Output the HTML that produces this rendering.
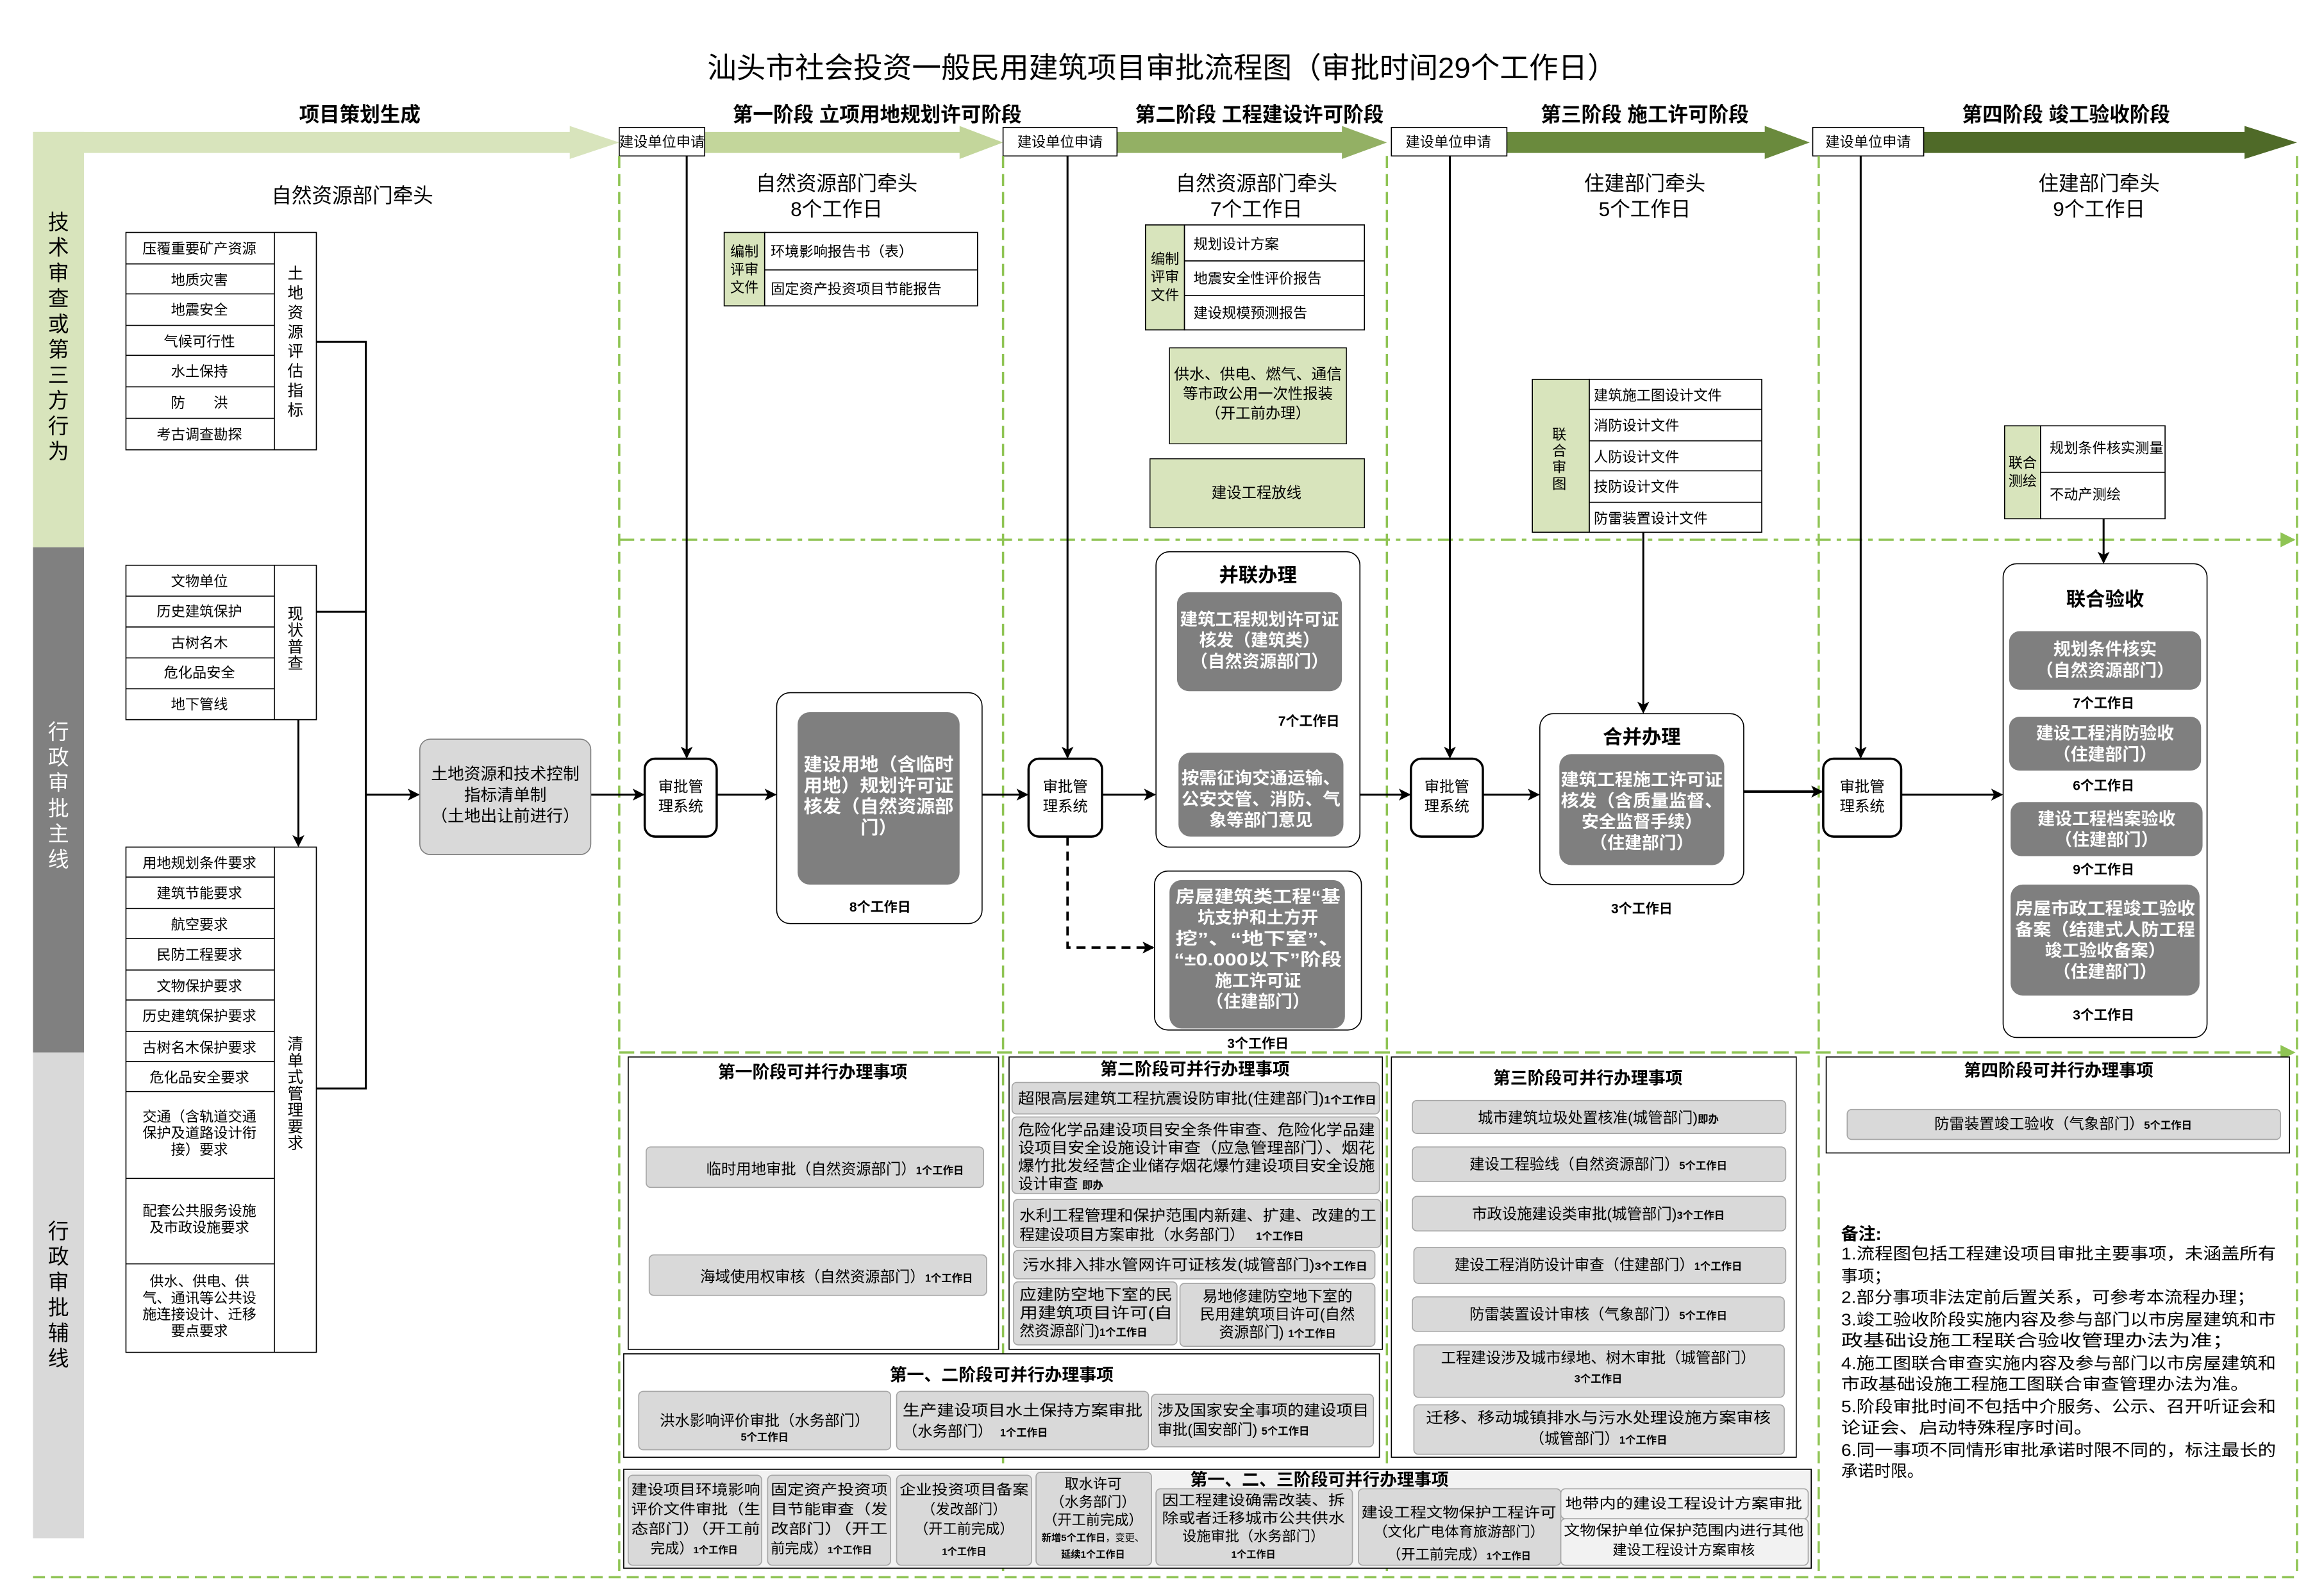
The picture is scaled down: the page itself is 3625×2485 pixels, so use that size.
<!DOCTYPE html>
<html><head><meta charset="utf-8">
<style>
html,body{margin:0;padding:0;background:#fff;}
svg{display:block;}
text{font-family:"Liberation Sans","Noto Sans CJK SC",sans-serif;fill:#000;}
.b{font-weight:bold;}
.w{fill:#fff;font-weight:bold;}
.m{text-anchor:middle;}
</style></head>
<body>
<svg width="3625" height="2485" viewBox="0 0 1550 1062.5" xmlns="http://www.w3.org/2000/svg">
<defs>
<marker id="a" markerWidth="8" markerHeight="8" refX="7" refY="4" orient="auto" markerUnits="userSpaceOnUse"><path d="M0,0 L8,4 L0,8 L2,4 z" fill="#000"/></marker>
<marker id="g" markerWidth="10" markerHeight="10" refX="9" refY="5" orient="auto" markerUnits="userSpaceOnUse"><path d="M0,0 L10,5 L0,10 z" fill="#8fc454"/></marker>
</defs>

<!-- Title -->
<text x="775" y="52" class="m" font-size="19.5">汕头市社会投资一般民用建筑项目审批流程图（审批时间29个工作日）</text>

<!-- stage headers -->
<g class="b" font-size="13.5">
<text x="240" y="81" class="m b">项目策划生成</text>
<text x="585" y="81" class="m b">第一阶段  立项用地规划许可阶段</text>
<text x="840" y="81" class="m b">第二阶段  工程建设许可阶段</text>
<text x="1097" y="81" class="m b">第三阶段  施工许可阶段</text>
<text x="1378" y="81" class="m b">第四阶段  竣工验收阶段</text>
</g>

<!-- left bands -->
<rect x="22" y="88" width="34" height="277" fill="#d8e4bc"/>
<rect x="22" y="365" width="34" height="337" fill="#808080"/>
<rect x="22" y="702" width="34" height="324" fill="#d9d9d9"/>
<text font-size="14" class="m"><tspan x="39" y="153">技</tspan><tspan x="39" dy="17">术</tspan><tspan x="39" dy="17">审</tspan><tspan x="39" dy="17">查</tspan><tspan x="39" dy="17">或</tspan><tspan x="39" dy="17">第</tspan><tspan x="39" dy="17">三</tspan><tspan x="39" dy="17">方</tspan><tspan x="39" dy="17">行</tspan><tspan x="39" dy="17">为</tspan></text>
<text font-size="14" class="m" style="fill:#fff"><tspan x="39" y="493">行</tspan><tspan x="39" dy="17">政</tspan><tspan x="39" dy="17">审</tspan><tspan x="39" dy="17">批</tspan><tspan x="39" dy="17">主</tspan><tspan x="39" dy="17">线</tspan></text>
<text font-size="14" class="m"><tspan x="39" y="826">行</tspan><tspan x="39" dy="17">政</tspan><tspan x="39" dy="17">审</tspan><tspan x="39" dy="17">批</tspan><tspan x="39" dy="17">辅</tspan><tspan x="39" dy="17">线</tspan></text>

<!-- big stage arrows -->
<polygon points="22,88 380,88 380,84 413,95 380,106 380,102 56,102 56,102 22,102" fill="#d8e4bc"/>
<polygon points="470,88 640,88 640,84 669,95 640,106 640,102 470,102" fill="#c3d69b"/>
<polygon points="745,88 895,88 895,84 925,95 895,106 895,102 745,102" fill="#93b064"/>
<polygon points="1005,88 1177,88 1177,84 1207,95 1177,106 1177,102 1005,102" fill="#6a8a3d"/>
<polygon points="1283,88 1497,88 1497,84 1532,95 1497,106 1497,102 1283,102" fill="#4f6a28"/>

<!-- 建设单位申请 boxes -->
<g font-size="9.5">
<rect x="413" y="85" width="57" height="19" fill="#fff" stroke="#000" stroke-width="0.7"/><text x="441.5" y="98" class="m">建设单位申请</text>
<rect x="669" y="85" width="76" height="19" fill="#fff" stroke="#000" stroke-width="0.7"/><text x="707" y="98" class="m">建设单位申请</text>
<rect x="928" y="85" width="77" height="19" fill="#fff" stroke="#000" stroke-width="0.7"/><text x="966" y="98" class="m">建设单位申请</text>
<rect x="1209" y="85" width="74" height="19" fill="#fff" stroke="#000" stroke-width="0.7"/><text x="1246" y="98" class="m">建设单位申请</text>
</g>

<!-- dashed green lines -->
<g stroke="#8fc454" stroke-width="1.5" fill="none" stroke-dasharray="8 4">
<line x1="413" y1="104" x2="413" y2="1052"/>
<line x1="669" y1="104" x2="669" y2="1052"/>
<line x1="925" y1="104" x2="925" y2="1052"/>
<line x1="1213" y1="104" x2="1213" y2="1052"/>
<line x1="1532" y1="104" x2="1532" y2="1052"/>
<line x1="22" y1="1052" x2="1532" y2="1052"/>
<line x1="413" y1="360" x2="1530" y2="360" stroke-dasharray="10 4 3 4" marker-end="url(#g)"/>
<line x1="413" y1="702" x2="1530" y2="702" stroke-dasharray="10 4" marker-end="url(#g)"/>
</g>

<!-- left section -->
<text x="235" y="135" class="m" font-size="13.5">自然资源部门牵头</text>
<g stroke="#000" stroke-width="0.7" fill="#fff">
<rect x="84" y="155" width="127" height="145"/><line x1="183" y1="155" x2="183" y2="300"/>
<line x1="84" y1="176" x2="183" y2="176"/><line x1="84" y1="196" x2="183" y2="196"/><line x1="84" y1="217" x2="183" y2="217"/><line x1="84" y1="237" x2="183" y2="237"/><line x1="84" y1="258" x2="183" y2="258"/><line x1="84" y1="279" x2="183" y2="279"/>
<rect x="84" y="377" width="127" height="103"/><line x1="183" y1="377" x2="183" y2="480"/>
<line x1="84" y1="397.6" x2="183" y2="397.6"/><line x1="84" y1="418.2" x2="183" y2="418.2"/><line x1="84" y1="438.8" x2="183" y2="438.8"/><line x1="84" y1="459.4" x2="183" y2="459.4"/>
<rect x="84" y="565" width="127" height="337"/><line x1="183" y1="565" x2="183" y2="902"/>
<line x1="84" y1="585" x2="183" y2="585"/><line x1="84" y1="606" x2="183" y2="606"/><line x1="84" y1="626" x2="183" y2="626"/><line x1="84" y1="647" x2="183" y2="647"/><line x1="84" y1="667" x2="183" y2="667"/><line x1="84" y1="688" x2="183" y2="688"/><line x1="84" y1="708" x2="183" y2="708"/><line x1="84" y1="728" x2="183" y2="728"/><line x1="84" y1="786" x2="183" y2="786"/><line x1="84" y1="843" x2="183" y2="843"/>
</g>
<g font-size="9.5" class="m">
<text x="133" y="169" class="m">压覆重要矿产资源</text>
<text x="133" y="190" class="m">地质灾害</text>
<text x="133" y="210" class="m">地震安全</text>
<text x="133" y="231" class="m">气候可行性</text>
<text x="133" y="251" class="m">水土保持</text>
<text x="133" y="272" class="m">防　　洪</text>
<text x="133" y="293" class="m">考古调查勘探</text>
<text x="133" y="391" class="m">文物单位</text>
<text x="133" y="411" class="m">历史建筑保护</text>
<text x="133" y="432" class="m">古树名木</text>
<text x="133" y="452" class="m">危化品安全</text>
<text x="133" y="473" class="m">地下管线</text>
<text x="133" y="579" class="m">用地规划条件要求</text>
<text x="133" y="599" class="m">建筑节能要求</text>
<text x="133" y="620" class="m">航空要求</text>
<text x="133" y="640" class="m">民防工程要求</text>
<text x="133" y="661" class="m">文物保护要求</text>
<text x="133" y="681" class="m">历史建筑保护要求</text>
<text x="133" y="702" class="m">古树名木保护要求</text>
<text x="133" y="722" class="m">危化品安全要求</text>
<text x="133" y="748" class="m">交通（含轨道交通</text>
<text x="133" y="759" class="m">保护及道路设计衔</text>
<text x="133" y="770" class="m">接）要求</text>
<text x="133" y="811" class="m">配套公共服务设施</text>
<text x="133" y="822" class="m">及市政设施要求</text>
<text x="133" y="858" class="m">供水、供电、供</text>
<text x="133" y="869" class="m">气、通讯等公共设</text>
<text x="133" y="880" class="m">施连接设计、迁移</text>
<text x="133" y="891" class="m">要点要求</text>
</g>
<g font-size="10.5" class="m">
<text class="m"><tspan x="197" y="186">土</tspan><tspan x="197" dy="13">地</tspan><tspan x="197" dy="13">资</tspan><tspan x="197" dy="13">源</tspan><tspan x="197" dy="13">评</tspan><tspan x="197" dy="13">估</tspan><tspan x="197" dy="13">指</tspan><tspan x="197" dy="13">标</tspan></text>
<text class="m"><tspan x="197" y="413">现</tspan><tspan x="197" dy="11">状</tspan><tspan x="197" dy="11">普</tspan><tspan x="197" dy="11">查</tspan></text>
<text class="m"><tspan x="197" y="700">清</tspan><tspan x="197" dy="11">单</tspan><tspan x="197" dy="11">式</tspan><tspan x="197" dy="11">管</tspan><tspan x="197" dy="11">理</tspan><tspan x="197" dy="11">要</tspan><tspan x="197" dy="11">求</tspan></text>
</g>
<g stroke="#000" stroke-width="1.3" fill="none">
<polyline points="211,228 244,228 244,726 211,726"/>
<line x1="211" y1="408" x2="244" y2="408"/>
<line x1="199" y1="480" x2="199" y2="564" marker-end="url(#a)"/>
<line x1="244" y1="530" x2="279" y2="530" marker-end="url(#a)"/>
<line x1="394" y1="530" x2="429" y2="530" marker-end="url(#a)"/>
</g>
<rect x="280" y="493" width="114" height="77" rx="7" fill="#d9d9d9" stroke="#7f7f7f" stroke-width="0.7"/>
<g font-size="11" class="m"><text x="337" y="520" class="m">土地资源和技术控制</text><text x="337" y="534" class="m">指标清单制</text><text x="337" y="548" class="m">（土地出让前进行）</text></g>

<!-- 审批管理系统 boxes -->
<g stroke="#000" stroke-width="1.5" fill="#fff">
<rect x="430" y="506" width="48" height="52" rx="7"/>
<rect x="686" y="506" width="49" height="52" rx="7"/>
<rect x="941" y="506" width="48" height="52" rx="7"/>
<rect x="1216" y="506" width="52" height="52" rx="7"/>
</g>
<g font-size="10" class="m">
<text x="454" y="528" class="m">审批管</text><text x="454" y="541" class="m">理系统</text>
<text x="710.5" y="528" class="m">审批管</text><text x="710.5" y="541" class="m">理系统</text>
<text x="965" y="528" class="m">审批管</text><text x="965" y="541" class="m">理系统</text>
<text x="1242" y="528" class="m">审批管</text><text x="1242" y="541" class="m">理系统</text>
</g>

<!-- vertical arrows from applications -->
<g stroke="#000" stroke-width="1.3" fill="none">
<line x1="458" y1="104" x2="458" y2="505" marker-end="url(#a)"/>
<line x1="712" y1="104" x2="712" y2="505" marker-end="url(#a)"/>
<line x1="967" y1="104" x2="967" y2="505" marker-end="url(#a)"/>
<line x1="1241" y1="104" x2="1241" y2="505" marker-end="url(#a)"/>
<line x1="478" y1="530" x2="517" y2="530" marker-end="url(#a)"/>
<line x1="655" y1="530" x2="685" y2="530" marker-end="url(#a)"/>
<line x1="735" y1="530" x2="770" y2="530" marker-end="url(#a)"/>
<line x1="907" y1="530" x2="940" y2="530" marker-end="url(#a)"/>
<line x1="989" y1="530" x2="1026" y2="530" marker-end="url(#a)"/>
<line x1="1163" y1="528" x2="1215" y2="528" marker-end="url(#a)" stroke-width="1.7"/>
<line x1="1268" y1="530" x2="1335" y2="530" marker-end="url(#a)"/>
<line x1="838" y1="461" x2="838" y2="500" marker-end="url(#a)"/>
<line x1="1096" y1="300" x2="1096" y2="475" marker-end="url(#a)"/>
<line x1="1403" y1="346" x2="1403" y2="375" marker-end="url(#a)"/>
<polyline points="712,558 712,632 769,632" stroke-dasharray="6 4" stroke-width="1.6" marker-end="url(#a)"/>
</g>

<!-- Stage 1 -->
<text x="558" y="127" class="m" font-size="13.5">自然资源部门牵头</text>
<text x="558" y="144" class="m" font-size="13.5">8个工作日</text>
<rect x="483" y="155" width="27" height="49" fill="#d8e4bc" stroke="#000" stroke-width="0.7"/>
<rect x="510" y="155" width="142" height="49" fill="#fff" stroke="#000" stroke-width="0.7"/>
<line x1="510" y1="180" x2="652" y2="180" stroke="#000" stroke-width="0.7"/>
<g font-size="9.5"><text x="496.5" y="171" class="m">编制</text><text x="496.5" y="183" class="m">评审</text><text x="496.5" y="195" class="m">文件</text>
<text x="514" y="171">环境影响报告书（表）</text><text x="514" y="196">固定资产投资项目节能报告</text></g>
<rect x="518" y="462" width="137" height="154" rx="9" fill="#fff" stroke="#000" stroke-width="0.7"/>
<rect x="532" y="475" width="108" height="115" rx="8" fill="#7f7f7f"/>
<g font-size="12" class="m">
<text x="586" y="514" class="m w" textLength="100" lengthAdjust="spacingAndGlyphs">建设用地（含临时</text>
<text x="586" y="528" class="m w" textLength="100" lengthAdjust="spacingAndGlyphs">用地）规划许可证</text>
<text x="586" y="542" class="m w" textLength="100" lengthAdjust="spacingAndGlyphs">核发（自然资源部</text>
<text x="586" y="556" class="m w">门）</text>
</g>
<text x="587" y="608" class="m b" font-size="9">8个工作日</text>

<!-- Stage 2 -->
<text x="838" y="127" class="m" font-size="13.5">自然资源部门牵头</text>
<text x="838" y="144" class="m" font-size="13.5">7个工作日</text>
<rect x="764" y="150" width="26" height="70" fill="#d8e4bc" stroke="#000" stroke-width="0.7"/>
<rect x="790" y="150" width="120" height="70" fill="#fff" stroke="#000" stroke-width="0.7"/>
<line x1="790" y1="174" x2="910" y2="174" stroke="#000" stroke-width="0.7"/><line x1="790" y1="197" x2="910" y2="197" stroke="#000" stroke-width="0.7"/>
<g font-size="9.5"><text x="777" y="176" class="m">编制</text><text x="777" y="188" class="m">评审</text><text x="777" y="200" class="m">文件</text>
<text x="796" y="166">规划设计方案</text><text x="796" y="189">地震安全性评价报告</text><text x="796" y="212">建设规模预测报告</text></g>
<rect x="780" y="232" width="118" height="64" fill="#d8e4bc" stroke="#000" stroke-width="0.6"/>
<g font-size="10"><text x="839" y="253" class="m" textLength="112" lengthAdjust="spacingAndGlyphs">供水、供电、燃气、通信</text><text x="839" y="266" class="m">等市政公用一次性报装</text><text x="839" y="279" class="m">（开工前办理）</text></g>
<rect x="767" y="306" width="143" height="46" fill="#d8e4bc" stroke="#000" stroke-width="0.6"/>
<text x="838" y="332" class="m" font-size="10">建设工程放线</text>
<rect x="771" y="368" width="136" height="197" rx="9" fill="#fff" stroke="#000" stroke-width="0.7"/>
<text x="839" y="388" class="m b" font-size="13">并联办理</text>
<rect x="785" y="395" width="110" height="66" rx="8" fill="#7f7f7f"/>
<g font-size="11.5"><text x="840" y="417" class="m w" textLength="106" lengthAdjust="spacingAndGlyphs">建筑工程规划许可证</text><text x="840" y="431" class="m w">核发（建筑类）</text><text x="840" y="445" class="m w">（自然资源部门）</text></g>
<text x="873" y="484" class="m b" font-size="9">7个工作日</text>
<rect x="786" y="502" width="110" height="56" rx="8" fill="#7f7f7f"/>
<g font-size="11.5"><text x="841" y="523" class="m w" textLength="106" lengthAdjust="spacingAndGlyphs">按需征询交通运输、</text><text x="841" y="537" class="m w" textLength="106" lengthAdjust="spacingAndGlyphs">公安交管、消防、气</text><text x="841" y="551" class="m w">象等部门意见</text></g>
<rect x="770" y="581" width="138" height="106" rx="9" fill="#fff" stroke="#000" stroke-width="0.7"/>
<rect x="780" y="587" width="117" height="99" rx="8" fill="#7f7f7f"/>
<g font-size="11.5">
<text x="839" y="602" class="m w" textLength="110" lengthAdjust="spacingAndGlyphs">房屋建筑类工程“基</text>
<text x="839" y="616" class="m w">坑支护和土方开</text>
<text x="839" y="630" class="m w" textLength="110" lengthAdjust="spacingAndGlyphs">挖”、“地下室”、</text>
<text x="839" y="644" class="m w" textLength="112" lengthAdjust="spacingAndGlyphs">“±0.000以下”阶段</text>
<text x="839" y="658" class="m w">施工许可证</text>
<text x="839" y="672" class="m w">（住建部门）</text></g>
<text x="839" y="699" class="m b" font-size="9">3个工作日</text>

<!-- Stage 3 -->
<text x="1097" y="127" class="m" font-size="13.5">住建部门牵头</text>
<text x="1097" y="144" class="m" font-size="13.5">5个工作日</text>
<rect x="1022" y="253" width="38" height="102" fill="#d8e4bc" stroke="#000" stroke-width="0.7"/>
<rect x="1060" y="253" width="115" height="102" fill="#fff" stroke="#000" stroke-width="0.7"/>
<g stroke="#000" stroke-width="0.7"><line x1="1060" y1="273" x2="1175" y2="273"/><line x1="1060" y1="294" x2="1175" y2="294"/><line x1="1060" y1="314" x2="1175" y2="314"/><line x1="1060" y1="335" x2="1175" y2="335"/></g>
<g font-size="9.5"><text class="m"><tspan x="1040" y="293">联</tspan><tspan x="1040" dy="11">合</tspan><tspan x="1040" dy="11">审</tspan><tspan x="1040" dy="11">图</tspan></text>
<text x="1063" y="267">建筑施工图设计文件</text><text x="1063" y="287">消防设计文件</text><text x="1063" y="308">人防设计文件</text><text x="1063" y="328">技防设计文件</text><text x="1063" y="349">防雷装置设计文件</text></g>
<rect x="1027" y="476" width="136" height="114" rx="9" fill="#fff" stroke="#000" stroke-width="0.7"/>
<text x="1095" y="496" class="m b" font-size="13">合并办理</text>
<rect x="1040" y="503" width="110" height="74" rx="8" fill="#7f7f7f"/>
<g font-size="11.5"><text x="1095" y="524" class="m w" textLength="108" lengthAdjust="spacingAndGlyphs">建筑工程施工许可证</text><text x="1095" y="538" class="m w" textLength="108" lengthAdjust="spacingAndGlyphs">核发（含质量监督、</text><text x="1095" y="552" class="m w">安全监督手续）</text><text x="1095" y="566" class="m w">（住建部门）</text></g>
<text x="1095" y="609" class="m b" font-size="9">3个工作日</text>

<!-- Stage 4 -->
<text x="1400" y="127" class="m" font-size="13.5">住建部门牵头</text>
<text x="1400" y="144" class="m" font-size="13.5">9个工作日</text>
<rect x="1337" y="284" width="24" height="62" fill="#d8e4bc" stroke="#000" stroke-width="0.7"/>
<rect x="1361" y="284" width="83" height="62" fill="#fff" stroke="#000" stroke-width="0.7"/>
<line x1="1361" y1="315" x2="1444" y2="315" stroke="#000" stroke-width="0.7"/>
<g font-size="9.5"><text x="1349" y="312" class="m">联合</text><text x="1349" y="324" class="m">测绘</text>
<text x="1367" y="302">规划条件核实测量</text><text x="1367" y="333">不动产测绘</text></g>
<rect x="1336" y="376" width="136" height="316" rx="9" fill="#fff" stroke="#000" stroke-width="0.7"/>
<text x="1404" y="404" class="m b" font-size="13">联合验收</text>
<rect x="1340" y="421" width="128" height="39" rx="7" fill="#7f7f7f"/>
<g font-size="11.5"><text x="1404" y="437" class="m w">规划条件核实</text><text x="1404" y="451" class="m w">（自然资源部门）</text></g>
<text x="1403" y="472" class="m b" font-size="9">7个工作日</text>
<rect x="1340" y="478" width="128" height="36" rx="7" fill="#7f7f7f"/>
<g font-size="11.5"><text x="1404" y="493" class="m w">建设工程消防验收</text><text x="1404" y="507" class="m w">（住建部门）</text></g>
<text x="1403" y="527" class="m b" font-size="9">6个工作日</text>
<rect x="1341" y="535" width="128" height="36" rx="7" fill="#7f7f7f"/>
<g font-size="11.5"><text x="1405" y="550" class="m w">建设工程档案验收</text><text x="1405" y="564" class="m w">（住建部门）</text></g>
<text x="1403" y="583" class="m b" font-size="9">9个工作日</text>
<rect x="1341" y="590" width="126" height="74" rx="8" fill="#7f7f7f"/>
<g font-size="11.5"><text x="1404" y="610" class="m w" textLength="120" lengthAdjust="spacingAndGlyphs">房屋市政工程竣工验收</text><text x="1404" y="624" class="m w" textLength="120" lengthAdjust="spacingAndGlyphs">备案（结建式人防工程</text><text x="1404" y="638" class="m w">竣工验收备案）</text><text x="1404" y="652" class="m w">（住建部门）</text></g>
<text x="1403" y="680" class="m b" font-size="9">3个工作日</text>

<!-- Bottom: stage 1 parallel -->
<g fill="#fff" stroke="#000" stroke-width="0.7">
<rect x="419" y="705" width="247" height="195"/>
<rect x="673" y="705" width="249" height="195"/>
<rect x="416" y="903" width="504" height="69"/>
<rect x="928" y="705" width="270" height="267"/>
<rect x="1218" y="705" width="309" height="64"/>
<rect x="416" y="980" width="792" height="66" fill="#f2f2f2"/>
</g>
<text x="542" y="719" class="m b" font-size="11.5">第一阶段可并行办理事项</text>
<text x="797" y="717" class="m b" font-size="11.5">第二阶段可并行办理事项</text>
<text x="668" y="921" class="m b" font-size="11.5">第一、二阶段可并行办理事项</text>
<text x="1059" y="723" class="m b" font-size="11.5">第三阶段可并行办理事项</text>
<text x="1373" y="718" class="m b" font-size="11.5">第四阶段可并行办理事项</text>

<g fill="#d9d9d9" stroke="#a6a6a6" stroke-width="0.7">
<rect x="431" y="765" width="225" height="27" rx="3"/>
<rect x="433" y="837" width="225" height="27" rx="3"/>
<rect x="675" y="722" width="245" height="21" rx="3"/>
<rect x="675" y="745" width="245" height="51" rx="3"/>
<rect x="676" y="800" width="245" height="32" rx="3"/>
<rect x="676" y="834" width="241" height="19" rx="3"/>
<rect x="676" y="855" width="109" height="42" rx="3"/>
<rect x="787" y="856" width="130" height="42" rx="3"/>
<rect x="426" y="928" width="168" height="39" rx="3"/>
<rect x="598" y="928" width="168" height="39" rx="3"/>
<rect x="768" y="930" width="148" height="35" rx="3"/>
<rect x="942" y="734" width="249" height="22" rx="3"/>
<rect x="942" y="765" width="249" height="23" rx="3"/>
<rect x="942" y="798" width="249" height="23" rx="3"/>
<rect x="943" y="832" width="248" height="24" rx="3"/>
<rect x="942" y="865" width="248" height="23" rx="3"/>
<rect x="943" y="897" width="247" height="35" rx="3"/>
<rect x="943" y="937" width="247" height="33" rx="3"/>
<rect x="1232" y="740" width="289" height="20" rx="3"/>
<rect x="419" y="984" width="89" height="60" rx="3"/>
<rect x="512" y="984" width="82" height="60" rx="3"/>
<rect x="598" y="984" width="90" height="60" rx="3"/>
<rect x="691" y="982" width="77" height="62" rx="3"/>
<rect x="771" y="993" width="131" height="51" rx="3"/>
<rect x="906" y="993" width="135" height="51" rx="3"/>
<rect x="1041" y="993" width="165" height="20" rx="3" fill="#f2f2f2"/>
<rect x="1041" y="1013" width="165" height="31" rx="3" fill="#f2f2f2"/>
</g>

<g font-size="10">
<text x="471" y="783">临时用地审批（自然资源部门）<tspan font-size="7" font-weight="bold">1个工作日</tspan></text>
<text x="467" y="855">海域使用权审核（自然资源部门）<tspan font-size="7" font-weight="bold">1个工作日</tspan></text>
<text x="679" y="736" textLength="239" lengthAdjust="spacingAndGlyphs">超限高层建筑工程抗震设防审批(住建部门)<tspan font-size="7" font-weight="bold">1个工作日</tspan></text>
<text x="679" y="757" textLength="238" lengthAdjust="spacingAndGlyphs">危险化学品建设项目安全条件审查、危险化学品建</text>
<text x="679" y="769" textLength="238" lengthAdjust="spacingAndGlyphs">设项目安全设施设计审查（应急管理部门）、烟花</text>
<text x="679" y="781" textLength="238" lengthAdjust="spacingAndGlyphs">爆竹批发经营企业储存烟花爆竹建设项目安全设施</text>
<text x="679" y="793">设计审查 <tspan font-size="7" font-weight="bold">即办</tspan></text>
<text x="680" y="814" textLength="238" lengthAdjust="spacingAndGlyphs">水利工程管理和保护范围内新建、扩建、改建的工</text>
<text x="680" y="827">程建设项目方案审批（水务部门）　 <tspan font-size="7" font-weight="bold">1个工作日</tspan></text>
<text x="682" y="847" textLength="230" lengthAdjust="spacingAndGlyphs">污水排入排水管网许可证核发(城管部门)<tspan font-size="7" font-weight="bold">3个工作日</tspan></text>
<text x="680" y="867" textLength="102" lengthAdjust="spacingAndGlyphs">应建防空地下室的民</text>
<text x="680" y="879" textLength="102" lengthAdjust="spacingAndGlyphs">用建筑项目许可(自</text>
<text x="680" y="891">然资源部门)<tspan font-size="7" font-weight="bold">1个工作日</tspan></text>
<text x="852" y="868" class="m">易地修建防空地下室的</text>
<text x="852" y="880" class="m">民用建筑项目许可(自然</text>
<text x="852" y="892" class="m">资源部门) <tspan font-size="7" font-weight="bold">1个工作日</tspan></text>
<text x="510" y="951" class="m">洪水影响评价审批（水务部门）</text>
<text x="510" y="961" class="m b" font-size="7">5个工作日</text>
<text x="602" y="944" textLength="160" lengthAdjust="spacingAndGlyphs">生产建设项目水土保持方案审批</text>
<text x="602" y="958">（水务部门）　<tspan font-size="7" font-weight="bold">1个工作日</tspan></text>
<text x="772" y="944" textLength="141" lengthAdjust="spacingAndGlyphs">涉及国家安全事项的建设项目</text>
<text x="772" y="957">审批(国安部门) <tspan font-size="7" font-weight="bold">5个工作日</tspan></text>
<text x="1066" y="749" class="m">城市建筑垃圾处置核准(城管部门)<tspan font-size="7" font-weight="bold">即办</tspan></text>
<text x="1066" y="780" class="m">建设工程验线（自然资源部门）<tspan font-size="7" font-weight="bold">5个工作日</tspan></text>
<text x="1066" y="813" class="m">市政设施建设类审批(城管部门)<tspan font-size="7" font-weight="bold">3个工作日</tspan></text>
<text x="1066" y="847" class="m">建设工程消防设计审查（住建部门）<tspan font-size="7" font-weight="bold">1个工作日</tspan></text>
<text x="1066" y="880" class="m">防雷装置设计审核（气象部门）<tspan font-size="7" font-weight="bold">5个工作日</tspan></text>
<text x="1066" y="909" class="m">工程建设涉及城市绿地、树木审批（城管部门）</text>
<text x="1066" y="922" class="m b" font-size="7">3个工作日</text>
<text x="1066" y="949" class="m" textLength="230" lengthAdjust="spacingAndGlyphs">迁移、移动城镇排水与污水处理设施方案审核</text>
<text x="1066" y="963" class="m">（城管部门）<tspan font-size="7" font-weight="bold">1个工作日</tspan></text>
<text x="1376" y="753" class="m">防雷装置竣工验收（气象部门）<tspan font-size="7" font-weight="bold">5个工作日</tspan></text>
</g>

<!-- bottom row items -->
<text x="880" y="991" class="m b" font-size="11.5">第一、二、三阶段可并行办理事项</text>
<g font-size="9.5">
<text x="421" y="997" textLength="86" lengthAdjust="spacingAndGlyphs">建设项目环境影响</text>
<text x="421" y="1010" textLength="86" lengthAdjust="spacingAndGlyphs">评价文件审批（生</text>
<text x="421" y="1023" textLength="86" lengthAdjust="spacingAndGlyphs">态部门）（开工前</text>
<text x="463" y="1036" class="m">完成）<tspan font-size="6.5" font-weight="bold">1个工作日</tspan></text>
<text x="514" y="997" textLength="78" lengthAdjust="spacingAndGlyphs">固定资产投资项</text>
<text x="514" y="1010" textLength="78" lengthAdjust="spacingAndGlyphs">目节能审查（发</text>
<text x="514" y="1023" textLength="78" lengthAdjust="spacingAndGlyphs">改部门）（开工</text>
<text x="514" y="1036">前完成）<tspan font-size="6.5" font-weight="bold">1个工作日</tspan></text>
<text x="643" y="997" class="m" textLength="86" lengthAdjust="spacingAndGlyphs">企业投资项目备案</text>
<text x="643" y="1010" class="m">（发改部门）</text>
<text x="643" y="1023" class="m">（开工前完成）</text>
<text x="643" y="1037" class="m b" font-size="6.5">1个工作日</text>
<text x="729" y="993" class="m">取水许可</text>
<text x="729" y="1005" class="m">（水务部门）</text>
<text x="729" y="1017" class="m">（开工前完成）</text>
<text x="729" y="1028" class="m" font-size="6.5"><tspan font-weight="bold">新增5个工作日</tspan>，变更、</text>
<text x="729" y="1039" class="m b" font-size="6.5">延续1个工作日</text>
<text x="836" y="1004" class="m" textLength="122" lengthAdjust="spacingAndGlyphs">因工程建设确需改装、拆</text>
<text x="836" y="1016" class="m" textLength="122" lengthAdjust="spacingAndGlyphs">除或者迁移城市公共供水</text>
<text x="836" y="1028" class="m">设施审批（水务部门）</text>
<text x="836" y="1039" class="m b" font-size="6.5">1个工作日</text>
<text x="973" y="1012" class="m" textLength="130" lengthAdjust="spacingAndGlyphs">建设工程文物保护工程许可</text>
<text x="973" y="1025" class="m">（文化广电体育旅游部门）</text>
<text x="973" y="1040" class="m">（开工前完成）<tspan font-size="6.5" font-weight="bold">1个工作日</tspan></text>
<text x="1123" y="1006" class="m" textLength="158" lengthAdjust="spacingAndGlyphs">地带内的建设工程设计方案审批</text>
<text x="1123" y="1024" class="m" textLength="160" lengthAdjust="spacingAndGlyphs">文物保护单位保护范围内进行其他</text>
<text x="1123" y="1037" class="m">建设工程设计方案审核</text>
</g>

<!-- Notes -->
<text x="1228" y="827" class="b" font-size="11.5">备注:</text>
<g font-size="11">
<text x="1228" y="840" textLength="290" lengthAdjust="spacingAndGlyphs">1.流程图包括工程建设项目审批主要事项，未涵盖所有</text>
<text x="1228" y="855">事项；</text>
<text x="1228" y="869" textLength="276" lengthAdjust="spacingAndGlyphs">2.部分事项非法定前后置关系，可参考本流程办理；</text>
<text x="1228" y="884" textLength="290" lengthAdjust="spacingAndGlyphs">3.竣工验收阶段实施内容及参与部门以市房屋建筑和市</text>
<text x="1228" y="898" textLength="262" lengthAdjust="spacingAndGlyphs">政基础设施工程联合验收管理办法为准；</text>
<text x="1228" y="913" textLength="290" lengthAdjust="spacingAndGlyphs">4.施工图联合审查实施内容及参与部门以市房屋建筑和</text>
<text x="1228" y="927" textLength="272" lengthAdjust="spacingAndGlyphs">市政基础设施工程施工图联合审查管理办法为准。</text>
<text x="1228" y="942" textLength="290" lengthAdjust="spacingAndGlyphs">5.阶段审批时间不包括中介服务、公示、召开听证会和</text>
<text x="1228" y="956" textLength="168" lengthAdjust="spacingAndGlyphs">论证会、启动特殊程序时间。</text>
<text x="1228" y="971" textLength="290" lengthAdjust="spacingAndGlyphs">6.同一事项不同情形审批承诺时限不同的，标注最长的</text>
<text x="1228" y="985">承诺时限。</text>
</g>
</svg>
</body></html>
